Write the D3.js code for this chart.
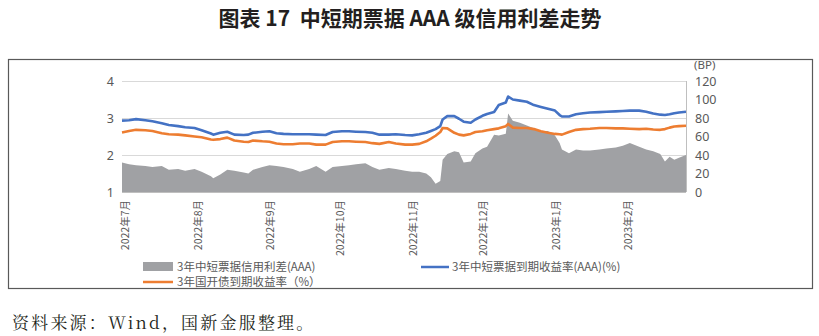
<!DOCTYPE html>
<html><head><meta charset="utf-8">
<script src="https://cdn.jsdelivr.net/npm/d3@7/dist/d3.min.js"></script>
<style>
html,body{margin:0;padding:0;background:#fff;}
svg{display:block;font-family:"Noto Sans CJK SC","Noto Sans",sans-serif;}
</style></head>
<body>
<svg id="c" width="819" height="336"></svg>
<script>
const dates = ["2022-07-01","2022-07-04","2022-07-07","2022-07-11","2022-07-14","2022-07-18","2022-07-21","2022-07-25","2022-07-28","2022-08-01",
"2022-08-04","2022-08-08","2022-08-09","2022-08-12","2022-08-15","2022-08-18","2022-08-22","2022-08-24","2022-08-26","2022-08-30",
"2022-09-02","2022-09-05","2022-09-08","2022-09-12","2022-09-15","2022-09-19","2022-09-22","2022-09-26","2022-09-29","2022-10-03",
"2022-10-06","2022-10-09","2022-10-13","2022-10-16","2022-10-19","2022-10-23","2022-10-26","2022-10-30","2022-11-02","2022-11-05",
"2022-11-08","2022-11-10","2022-11-12","2022-11-14","2022-11-15","2022-11-17","2022-11-20","2022-11-22","2022-11-24","2022-11-27",
"2022-11-29","2022-12-02","2022-12-04","2022-12-07","2022-12-09","2022-12-12","2022-12-13","2022-12-15","2022-12-18","2022-12-21",
"2022-12-24","2022-12-27","2022-12-30","2023-01-02","2023-01-04","2023-01-05","2023-01-08","2023-01-11","2023-01-14","2023-01-17",
"2023-01-21","2023-01-24","2023-01-28","2023-01-31","2023-02-03","2023-02-07","2023-02-10","2023-02-13","2023-02-16","2023-02-18",
"2023-02-20","2023-02-22","2023-02-24","2023-02-27"];

// 3年中短票据到期收益率(AAA) (%)
const mtnYield = [2.93,2.94,2.97,2.94,2.91,2.86,2.81,2.78,2.75,2.73,
2.67,2.58,2.55,2.60,2.63,2.55,2.54,2.55,2.60,2.63,
2.64,2.59,2.57,2.56,2.56,2.56,2.55,2.54,2.62,2.64,
2.64,2.63,2.62,2.60,2.55,2.55,2.56,2.54,2.53,2.56,
2.60,2.65,2.70,2.78,2.96,3.05,3.05,2.98,2.90,2.87,
2.96,3.06,3.11,3.16,3.35,3.42,3.58,3.50,3.47,3.44,
3.35,3.30,3.25,3.20,3.08,3.04,3.04,3.10,3.13,3.15,
3.16,3.17,3.18,3.19,3.20,3.20,3.17,3.12,3.09,3.08,
3.10,3.13,3.15,3.17];

// 3年国开债到期收益率 (%)
const cdbYield = [2.61,2.65,2.68,2.67,2.65,2.59,2.56,2.55,2.53,2.50,
2.48,2.42,2.41,2.43,2.47,2.39,2.36,2.35,2.39,2.37,
2.36,2.31,2.29,2.29,2.31,2.31,2.28,2.28,2.35,2.37,
2.37,2.36,2.35,2.32,2.30,2.35,2.31,2.28,2.28,2.30,
2.37,2.44,2.52,2.62,2.73,2.72,2.60,2.55,2.53,2.57,
2.62,2.64,2.67,2.70,2.72,2.78,2.84,2.74,2.73,2.73,
2.70,2.64,2.60,2.57,2.56,2.55,2.62,2.68,2.70,2.71,
2.73,2.73,2.72,2.72,2.71,2.70,2.71,2.69,2.68,2.70,
2.74,2.77,2.78,2.79];

// 3年中短票据信用利差(AAA) (BP)
const spread = [32,30,29,28,27,28,24,25,23,25,
22,17,15,19,24,23,21,20,24,27,
29,28,27,25,22,25,28,22,27,28,
29,30,31,27,24,26,25,23,22,22,
20,16,9,12,35,41,44,43,32,33,
42,47,49,62,61,63,85,77,75,72,
69,66,66,61,53,46,42,46,45,45,
46,47,48,50,53,49,46,44,41,33,
38,35,37,40];

const leftTicks = [1,2,3,4];
const rightTicks = [0,20,40,60,80,100,120];
const monthTicks = ["2022-07-01","2022-08-01","2022-09-01","2022-10-01","2022-11-01","2022-12-01","2023-01-01","2023-02-01"];
const legendLabels = ["3年中短票据信用利差(AAA)","3年中短票据到期收益率(AAA)(%)","3年国开债到期收益率（%）"];
const titleText = "图表 17\u00a0\u00a0中短期票据 AAA 级信用利差走势";
const sourceText = "资料来源：Wind，国新金服整理。";

const parse = d3.timeParse("%Y-%m-%d");
const rows = dates.map((d,i)=>({date:parse(d), b:mtnYield[i], o:cdbYield[i], g:spread[i]}));

const svg = d3.select("#c");
const L = 122, R = 686, T = 81, B = 192;
const x = d3.scaleTime().domain([parse("2022-07-01"), parse("2023-02-27")]).range([L, R]);
const yL = d3.scaleLinear().domain([1,4]).range([B, T]);
const yR = d3.scaleLinear().domain([0,120]).range([B, T]);

// title
svg.append("text").attr("x",410).attr("y",26).attr("text-anchor","middle")
  .attr("font-size",21).attr("font-weight","bold").attr("fill","#231f20").text(titleText);

// frame
svg.append("rect").attr("x",8.5).attr("y",59.5).attr("width",804).attr("height",229)
  .attr("fill","none").attr("stroke","#595959").attr("stroke-width",1.2);

// gridlines
svg.append("g").selectAll("line").data(leftTicks.filter(t=>t>1)).join("line")
  .attr("x1",L).attr("x2",R).attr("y1",d=>yL(d)+0.5).attr("y2",d=>yL(d)+0.5)
  .attr("stroke","#d9d9d9").attr("stroke-width",1);

// area
svg.append("path").datum(rows)
  .attr("d", d3.area().x(d=>x(d.date)).y0(yR(0)).y1(d=>yR(d.g)))
  .attr("fill","#a0a1a4");

// lines
svg.append("path").datum(rows)
  .attr("d", d3.line().x(d=>x(d.date)).y(d=>yL(d.o)))
  .attr("fill","none").attr("stroke","#ed7d31").attr("stroke-width",2.6).attr("stroke-linejoin","round");
svg.append("path").datum(rows)
  .attr("d", d3.line().x(d=>x(d.date)).y(d=>yL(d.b)))
  .attr("fill","none").attr("stroke","#4472c4").attr("stroke-width",2.6).attr("stroke-linejoin","round");

// bottom axis
const xAxis = svg.append("g").attr("transform",`translate(0,${B})`)
  .call(d3.axisBottom(x).tickValues(monthTicks.map(parse)).tickSize(0)
    .tickFormat(d=>`${d.getFullYear()}年${d.getMonth()+1}月`));
xAxis.select(".domain").attr("stroke","#bfbfbf").attr("d",`M${L},0.5H${R}`);
xAxis.selectAll("text")
  .attr("transform","translate(3,8) rotate(-90)")
  .attr("text-anchor","end").attr("x",0).attr("y",0).attr("dy","0.35em")
  .attr("font-size",10.5).attr("fill","#595959").attr("font-family","\"Noto Sans CJK SC\",sans-serif");

// left axis
const yAxL = svg.append("g").attr("transform",`translate(${L},0)`)
  .call(d3.axisLeft(yL).tickValues(leftTicks).tickSize(0).tickPadding(8).tickFormat(d3.format("d")));
yAxL.select(".domain").remove();
yAxL.selectAll("text").attr("font-size",12.5).attr("fill","#595959").attr("font-family","\"Noto Sans\",sans-serif");

// right axis
const yAxR = svg.append("g").attr("transform",`translate(${R},0)`)
  .call(d3.axisRight(yR).tickValues(rightTicks).tickSize(0).tickPadding(9));
yAxR.select(".domain").attr("stroke","#bfbfbf").attr("d",`M0.5,${T}V${B}`);
yAxR.selectAll("text").attr("font-size",12.5).attr("fill","#595959").attr("font-family","\"Noto Sans\",sans-serif");
svg.append("text").attr("x",694).attr("y",69).attr("font-size",11.5).attr("fill","#595959")
  .attr("font-family","\"Noto Sans\",sans-serif").text("(BP)");

// legend
const lg = svg.append("g").attr("font-size",11.5).attr("fill","#595959");
lg.append("rect").attr("x",143).attr("y",262).attr("width",30).attr("height",9).attr("fill","#a0a1a4");
lg.append("text").attr("x",177).attr("y",267).attr("dy","0.35em").text(legendLabels[0]);
lg.append("line").attr("x1",421).attr("x2",449).attr("y1",267).attr("y2",267).attr("stroke","#4472c4").attr("stroke-width",2.5);
lg.append("text").attr("x",452).attr("y",267).attr("dy","0.35em").text(legendLabels[1]);
lg.append("line").attr("x1",143).attr("x2",173).attr("y1",282).attr("y2",282).attr("stroke","#ed7d31").attr("stroke-width",2.5);
lg.append("text").attr("x",177).attr("y",282).attr("dy","0.35em").text(legendLabels[2]);

// source
svg.append("text").attr("x",12).attr("y",329).attr("font-size",17).attr("letter-spacing",2.2)
  .attr("fill","#231f20").attr("font-family","\"Noto Serif CJK SC\",\"Noto Sans CJK SC\",serif").text(sourceText);
</script>
</body></html>
